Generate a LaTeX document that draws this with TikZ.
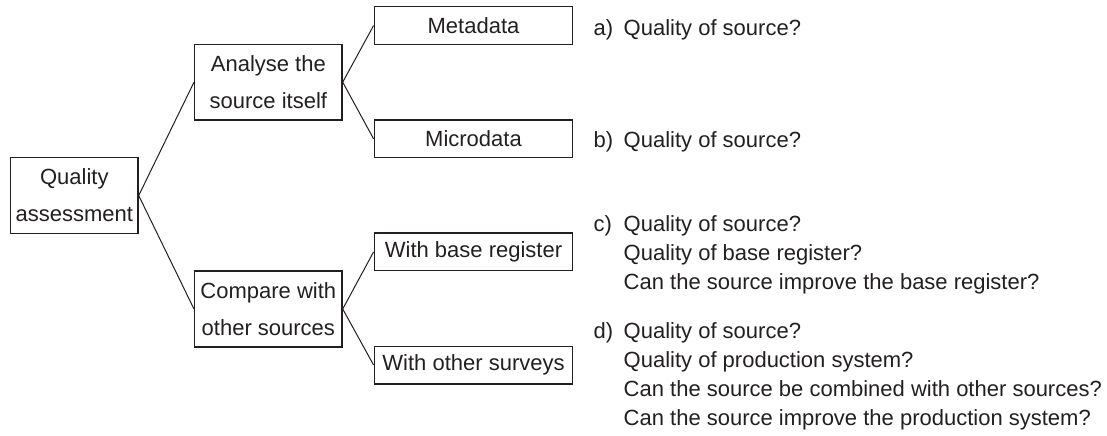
\documentclass[tikz,border=0pt]{standalone}
\usepackage{fontspec}
\setmainfont{Liberation Sans}
\definecolor{ink}{HTML}{231F20}
\tikzset{
  box/.style={draw=ink, line width=0.7pt, rectangle, inner sep=0pt, align=center,
    font=\fontsize{11}{18.5}\selectfont, text=ink},
  twoline/.style={minimum width=73.65pt, minimum height=37.85pt},
  leaf/.style={minimum width=99.2pt, minimum height=18.8pt},
  link/.style={draw=ink, line width=0.5pt},
  qtext/.style={anchor=base west, inner sep=0pt, text=ink, font=\fontsize{11}{14.5}\selectfont}
}
\newcommand{\lbl}[1]{\makebox[15pt][l]{#1}}
\begin{document}
\begin{tikzpicture}[x=0.5pt,y=-0.5pt]
\useasboundingbox (0,0) rectangle (1107,435);
% boxes
\node[box, minimum width=63.65pt, minimum height=37.75pt] (qa) at (74.35,195.5) {Quality\\assessment};
\node[box, twoline] (an) at (268.35,82.2) {Analyse the\\source itself};
\node[box, twoline] (cp) at (268.35,309) {Compare with\\other sources};
\node[box, leaf] (md) at (473.5,25.5) {Metadata};
\node[box, leaf] (mi) at (473.5,138.85) {Microdata};
\node[box, leaf] (br) at (473.5,251.85) {With base register};
\node[box, leaf] (os) at (473.5,365) {With other surveys};
% connectors
\draw[link] (qa.east) -- (an.west);
\draw[link] (qa.east) -- (cp.west);
\draw[link] (an.east) -- (md.west);
\draw[link] (an.east) -- (mi.west);
\draw[link] (cp.east) -- (br.west);
\draw[link] (cp.east) -- (os.west);
% questions
\node[qtext] (ta) at (593.3,35) {\begin{tabular}[t]{@{}l@{}l@{}}\lbl{a)} & Quality of source?\end{tabular}};
\node[qtext] (tb) at (593.3,147) {\begin{tabular}[t]{@{}l@{}l@{}}\lbl{b)} & Quality of source?\end{tabular}};
\node[qtext] (tc) at (593.3,231) {\begin{tabular}[t]{@{}l@{}l@{}}\lbl{c)} & Quality of source?\\
 & Quality of base register?\\
 & Can the source improve the base register?\end{tabular}};
\node[qtext] (td) at (593.3,338) {\begin{tabular}[t]{@{}l@{}l@{}}\lbl{d)} & Quality of source?\\
 & Quality of production system?\\
 & Can the source be combined with other sources?\\
 & Can the source improve the production system?\end{tabular}};
\end{tikzpicture}
\end{document}
